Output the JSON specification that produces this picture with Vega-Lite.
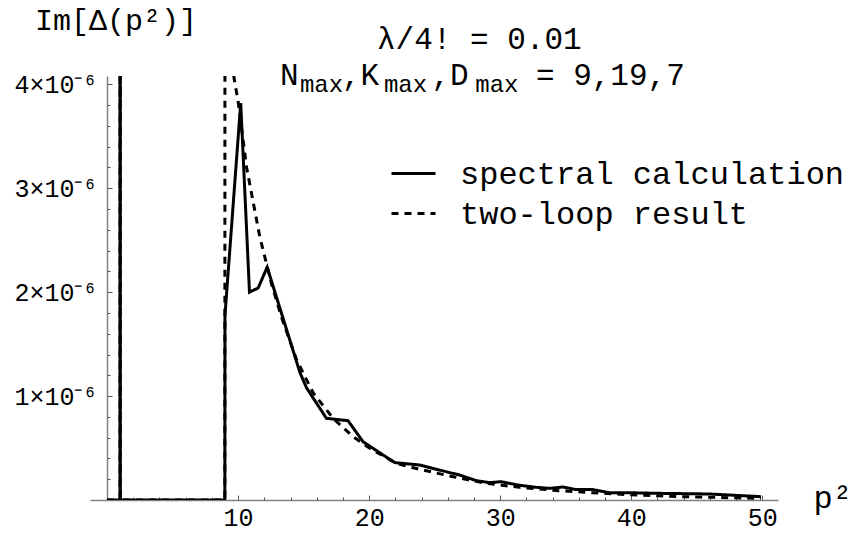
{
  "$schema": "https://vega.github.io/schema/vega-lite/v6.json",
  "width": 688,
  "height": 424,
  "autosize": {"type": "none"},
  "padding": {"left": 90, "top": 76, "right": 73, "bottom": 35},
  "background": "white",
  "config": {
    "view": {"stroke": null},
    "font": "Liberation Mono",
    "text": {"font": "Liberation Mono", "color": "black", "align": "left", "baseline": "alphabetic", "clip": false},
    "axis": {"grid": false, "labelFont": "Liberation Mono", "titleFont": "Liberation Mono", "labelColor": "black", "titleColor": "black", "titleFontWeight": "normal", "domainColor": "#808080", "domainWidth": 1.5, "tickColor": "#555555", "tickWidth": 1}
  },
  "data": {
    "values": [
      {"p2": 0, "im": 0, "series": "spectral calculation"},
      {"p2": 0.99, "im": 0, "series": "spectral calculation"},
      {"p2": 1.0, "im": 0.0001, "series": "spectral calculation"},
      {"p2": 1.01, "im": 0, "series": "spectral calculation"},
      {"p2": 8.99, "im": 0, "series": "spectral calculation"},
      {"p2": 9.0, "im": 1.78e-6, "series": "spectral calculation"},
      {"p2": 10.2, "im": 3.82e-6, "series": "spectral calculation"},
      {"p2": 10.87, "im": 2.0e-6, "series": "spectral calculation"},
      {"p2": 11.53, "im": 2.04e-6, "series": "spectral calculation"},
      {"p2": 12.22, "im": 2.24e-6, "series": "spectral calculation"},
      {"p2": 14.71, "im": 1.23e-6, "series": "spectral calculation"},
      {"p2": 15.22, "im": 1.08e-6, "series": "spectral calculation"},
      {"p2": 16.74, "im": 0.786e-6, "series": "spectral calculation"},
      {"p2": 18.39, "im": 0.763e-6, "series": "spectral calculation"},
      {"p2": 19.54, "im": 0.56e-6, "series": "spectral calculation"},
      {"p2": 21.95, "im": 0.36e-6, "series": "spectral calculation"},
      {"p2": 23.86, "im": 0.337e-6, "series": "spectral calculation"},
      {"p2": 25.38, "im": 0.288e-6, "series": "spectral calculation"},
      {"p2": 26.9, "im": 0.24e-6, "series": "spectral calculation"},
      {"p2": 28.18, "im": 0.186e-6, "series": "spectral calculation"},
      {"p2": 29.2, "im": 0.167e-6, "series": "spectral calculation"},
      {"p2": 30.08, "im": 0.176e-6, "series": "spectral calculation"},
      {"p2": 31.35, "im": 0.144e-6, "series": "spectral calculation"},
      {"p2": 32.75, "im": 0.122e-6, "series": "spectral calculation"},
      {"p2": 33.77, "im": 0.112e-6, "series": "spectral calculation"},
      {"p2": 34.78, "im": 0.125e-6, "series": "spectral calculation"},
      {"p2": 35.8, "im": 0.1e-6, "series": "spectral calculation"},
      {"p2": 37.07, "im": 0.1e-6, "series": "spectral calculation"},
      {"p2": 38.34, "im": 0.07e-6, "series": "spectral calculation"},
      {"p2": 39.86, "im": 0.07e-6, "series": "spectral calculation"},
      {"p2": 42.15, "im": 0.064e-6, "series": "spectral calculation"},
      {"p2": 45.96, "im": 0.058e-6, "series": "spectral calculation"},
      {"p2": 49.9, "im": 0.032e-6, "series": "spectral calculation"},
      {"p2": 0, "im": 0, "series": "two-loop result"},
      {"p2": 0.99, "im": 0, "series": "two-loop result"},
      {"p2": 1.0, "im": 0.0001, "series": "two-loop result"},
      {"p2": 1.01, "im": 0, "series": "two-loop result"},
      {"p2": 8.99, "im": 0, "series": "two-loop result"},
      {"p2": 9.01, "im": 1.5e-5, "series": "two-loop result"},
      {"p2": 9.1, "im": 8e-6, "series": "two-loop result"},
      {"p2": 9.3, "im": 5.6e-6, "series": "two-loop result"},
      {"p2": 9.5, "im": 4.6e-6, "series": "two-loop result"},
      {"p2": 9.68, "im": 4.07e-6, "series": "two-loop result"},
      {"p2": 10.01, "im": 3.83e-6, "series": "two-loop result"},
      {"p2": 10.65, "im": 3.2e-6, "series": "two-loop result"},
      {"p2": 11.66, "im": 2.53e-6, "series": "two-loop result"},
      {"p2": 12.55, "im": 2.08e-6, "series": "two-loop result"},
      {"p2": 13.31, "im": 1.76e-6, "series": "two-loop result"},
      {"p2": 14.46, "im": 1.35e-6, "series": "two-loop result"},
      {"p2": 15.73, "im": 1.03e-6, "series": "two-loop result"},
      {"p2": 17.25, "im": 0.786e-6, "series": "two-loop result"},
      {"p2": 18.77, "im": 0.61e-6, "series": "two-loop result"},
      {"p2": 20.05, "im": 0.497e-6, "series": "two-loop result"},
      {"p2": 22.08, "im": 0.353e-6, "series": "two-loop result"},
      {"p2": 23.86, "im": 0.295e-6, "series": "two-loop result"},
      {"p2": 26.4, "im": 0.224e-6, "series": "two-loop result"},
      {"p2": 28.94, "im": 0.16e-6, "series": "two-loop result"},
      {"p2": 31.48, "im": 0.122e-6, "series": "two-loop result"},
      {"p2": 34.53, "im": 0.089e-6, "series": "two-loop result"},
      {"p2": 37.07, "im": 0.07e-6, "series": "two-loop result"},
      {"p2": 39.86, "im": 0.05e-6, "series": "two-loop result"},
      {"p2": 43.9, "im": 0.032e-6, "series": "two-loop result"},
      {"p2": 49.9, "im": 0.016e-6, "series": "two-loop result"}
    ]
  },
  "layer": [
    {
      "mark": {"type": "line", "clip": true, "color": "black", "strokeWidth": 3},
      "encoding": {
        "x": {"field": "p2", "type": "quantitative", "scale": {"domain": [-1.3, 51.2], "nice": false, "zero": false},
          "axis": {"values": [10, 20, 30, 40, 50], "format": "d", "labelFontSize": 25, "tickSize": -5, "labelPadding": 10, "orient": "bottom",
            "title": "p²", "titleFontSize": 32, "titleAlign": "left", "titleBaseline": "alphabetic", "titleX": 723, "titleY": 7, "titleAnchor": "start"}},
        "y": {"field": "im", "type": "quantitative", "scale": {"domain": [0, 4.08e-6], "nice": false, "zero": false},
          "axis": {"values": [1e-6, 2e-6, 3e-6, 4e-6], "labelExpr": "format(datum.value*1e6, '.0f') + '×10⁻⁶'", "labelFontSize": 25, "tickSize": -5, "labelPadding": 15, "offset": -17, "orient": "left", "title": null}},
        "strokeDash": {"field": "series", "type": "nominal",
          "scale": {"domain": ["spectral calculation", "two-loop result"], "range": [[1, 0], [7, 6]]},
          "legend": {"title": null, "orient": "none", "legendX": 300, "legendY": 74, "padding": 0, "labelFont": "Liberation Mono", "labelFontSize": 32, "labelColor": "black", "labelOffset": 23, "labelLimit": 0, "symbolType": "stroke", "symbolSize": 1936, "symbolStrokeWidth": 3, "symbolStrokeColor": "black", "rowPadding": -3}}
      }
    },
    {
      "mark": {"type": "point", "opacity": 0},
      "encoding": {
        "x": {"field": "p2", "type": "quantitative", "scale": {"domain": [-1.3, 51.2], "nice": false, "zero": false},
          "axis": {"values": [2, 4, 6, 8, 12, 14, 16, 18, 22, 24, 26, 28, 32, 34, 36, 38, 42, 44, 46, 48], "labels": false, "domain": false, "tickSize": -3, "title": null, "orient": "bottom"}},
        "y": {"field": "im", "type": "quantitative", "scale": {"domain": [0, 4.08e-6], "nice": false, "zero": false},
          "axis": {"values": [2e-7, 4e-7, 6e-7, 8e-7, 1.2e-6, 1.4e-6, 1.6e-6, 1.8e-6, 2.2e-6, 2.4e-6, 2.6e-6, 2.8e-6, 3.2e-6, 3.4e-6, 3.6e-6, 3.8e-6], "labels": false, "domain": false, "tickSize": -3, "title": null, "orient": "left", "offset": -17}}
      }
    },
    {
      "data": {"values": [{}]},
      "mark": {"type": "text", "text": "Im[Δ(p²)]", "fontSize": 30},
      "encoding": {"x": {"datum": -5.5, "type": "quantitative", "axis": null}, "y": {"datum": 4.52e-6, "type": "quantitative", "axis": null}}
    },
    {
      "data": {"values": [{}]},
      "mark": {"type": "text", "text": "λ/4! = 0.01", "fontSize": 31},
      "encoding": {"x": {"datum": 20.6, "type": "quantitative", "axis": null}, "y": {"datum": 4.34e-6, "type": "quantitative", "axis": null}}
    },
    {
      "data": {"values": [{}]},
      "mark": {"type": "text", "text": "N", "fontSize": 31},
      "encoding": {"x": {"datum": 13.2, "type": "quantitative", "axis": null}, "y": {"datum": 3.993e-6, "type": "quantitative", "axis": null}}
    },
    {
      "data": {"values": [{}]},
      "mark": {"type": "text", "text": "max", "fontSize": 24},
      "encoding": {"x": {"datum": 14.72, "type": "quantitative", "axis": null}, "y": {"datum": 3.926e-6, "type": "quantitative", "axis": null}}
    },
    {
      "data": {"values": [{}]},
      "mark": {"type": "text", "text": ",K", "fontSize": 31},
      "encoding": {"x": {"datum": 17.93, "type": "quantitative", "axis": null}, "y": {"datum": 3.993e-6, "type": "quantitative", "axis": null}}
    },
    {
      "data": {"values": [{}]},
      "mark": {"type": "text", "text": "max", "fontSize": 24},
      "encoding": {"x": {"datum": 21.13, "type": "quantitative", "axis": null}, "y": {"datum": 3.926e-6, "type": "quantitative", "axis": null}}
    },
    {
      "data": {"values": [{}]},
      "mark": {"type": "text", "text": ",D", "fontSize": 31},
      "encoding": {"x": {"datum": 24.75, "type": "quantitative", "axis": null}, "y": {"datum": 3.993e-6, "type": "quantitative", "axis": null}}
    },
    {
      "data": {"values": [{}]},
      "mark": {"type": "text", "text": "max", "fontSize": 24},
      "encoding": {"x": {"datum": 28.1, "type": "quantitative", "axis": null}, "y": {"datum": 3.926e-6, "type": "quantitative", "axis": null}}
    },
    {
      "data": {"values": [{}]},
      "mark": {"type": "text", "text": "= 9,19,7", "fontSize": 31},
      "encoding": {"x": {"datum": 32.73, "type": "quantitative", "axis": null}, "y": {"datum": 3.993e-6, "type": "quantitative", "axis": null}}
    }
  ],
  "resolve": {"axis": {"x": "independent", "y": "independent"}}
}
